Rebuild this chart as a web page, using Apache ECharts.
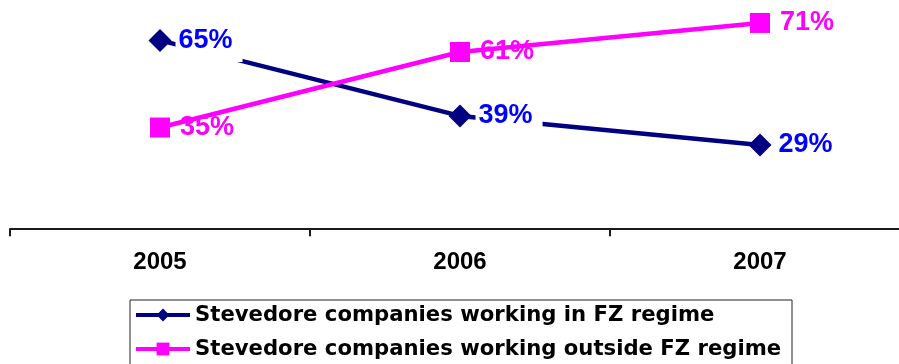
<!DOCTYPE html>
<html>
<head>
<meta charset="utf-8">
<title>Stevedore companies by regime</title>
<script src="https://cdn.jsdelivr.net/npm/echarts@6/dist/echarts.min.js"></script>
<style>
  html, body { margin: 0; padding: 0; background: #fff; }
  #chart { width: 899px; height: 364px; }
</style>
</head>
<body>
<div id="chart"></div>
<script>
// Share of stevedore companies, by year and customs regime (percent)
const years = ['2005', '2006', '2007'];
const inFZ = [65, 39, 29];
const outsideFZ = [35, 61, 71];
const seriesNames = [
  'Stevedore companies working in FZ regime',
  'Stevedore companies working outside FZ regime'
];

const NAVY = '#000080';
const MAGENTA = '#FF00FF';
const valueFont = {
  fontFamily: 'Liberation Sans, Arial, sans-serif',
  fontWeight: 'bold',
  fontSize: 27
};

const chart = echarts.init(document.getElementById('chart'), null, { renderer: 'canvas' });

chart.setOption({
  animation: false,
  backgroundColor: '#ffffff',
  grid: {
    left: 10, width: 900, top: -3.2, height: 232.4,
    outerBoundsMode: 'none',
    containLabel: false
  },
  xAxis: {
    type: 'category',
    data: years,
    boundaryGap: true,
    axisLine: { lineStyle: { color: '#1a1a1a', width: 2 } },
    axisTick: { show: true, length: 7, lineStyle: { color: '#1a1a1a', width: 2 } },
    axisLabel: {
      margin: 21,
      color: '#000',
      fontFamily: 'Liberation Sans, Arial, sans-serif',
      fontWeight: 'bold',
      fontSize: 24
    },
    splitLine: { show: false }
  },
  yAxis: {
    type: 'value',
    min: 0,
    max: 80,
    show: false
  },
  legend: {
    data: seriesNames,
    orient: 'vertical',
    left: 134,
    top: 303,
    padding: 0,
    itemGap: 10,
    itemWidth: 54,
    itemHeight: 16,
    selectedMode: false,
    lineStyle: { width: 4 },
    textStyle: {
      color: '#000',
      fontFamily: 'DejaVu Sans, sans-serif',
      fontWeight: 'bold',
      fontSize: 21.2,
      lineHeight: 24
    }
  },
  graphic: [
    {
      // frame around the legend; its lower edge runs past the bottom of the chart
      type: 'rect',
      left: 127.5,
      top: 297.5,
      shape: { width: 662, height: 90 },
      style: { fill: 'none', stroke: '#222', lineWidth: 1 },
      silent: true,
      z: 0
    }
  ],
  series: [
    {
      name: seriesNames[0],
      type: 'line',
      data: inFZ,
      z: 2,
      symbol: 'diamond',
      symbolSize: 23,
      lineStyle: { color: NAVY, width: 4.5 },
      itemStyle: { color: NAVY },
      label: {
        show: true,
        position: 'right',
        distance: 4,
        formatter: '{c}%',
        color: '#0000FF',
        backgroundColor: '#ffffff',
        padding: [8, 10, 8, 3],
        ...valueFont
      }
    },
    {
      // value labels for the outside-FZ line, kept beneath the line itself
      name: 'outsideLabels',
      type: 'scatter',
      data: outsideFZ,
      z: 3,
      silent: true,
      symbol: 'rect',
      symbolSize: 20,
      itemStyle: { color: 'rgba(0,0,0,0)', opacity: 1 },
      label: {
        show: true,
        position: 'right',
        distance: 10,
        formatter: '{c}%',
        color: MAGENTA,
        ...valueFont
      }
    },
    {
      name: seriesNames[1],
      type: 'line',
      data: outsideFZ,
      z: 4,
      symbol: 'rect',
      symbolSize: 20,
      lineStyle: { color: MAGENTA, width: 4.5 },
      itemStyle: { color: MAGENTA },
      label: { show: false }
    }
  ]
});
</script>
</body>
</html>
